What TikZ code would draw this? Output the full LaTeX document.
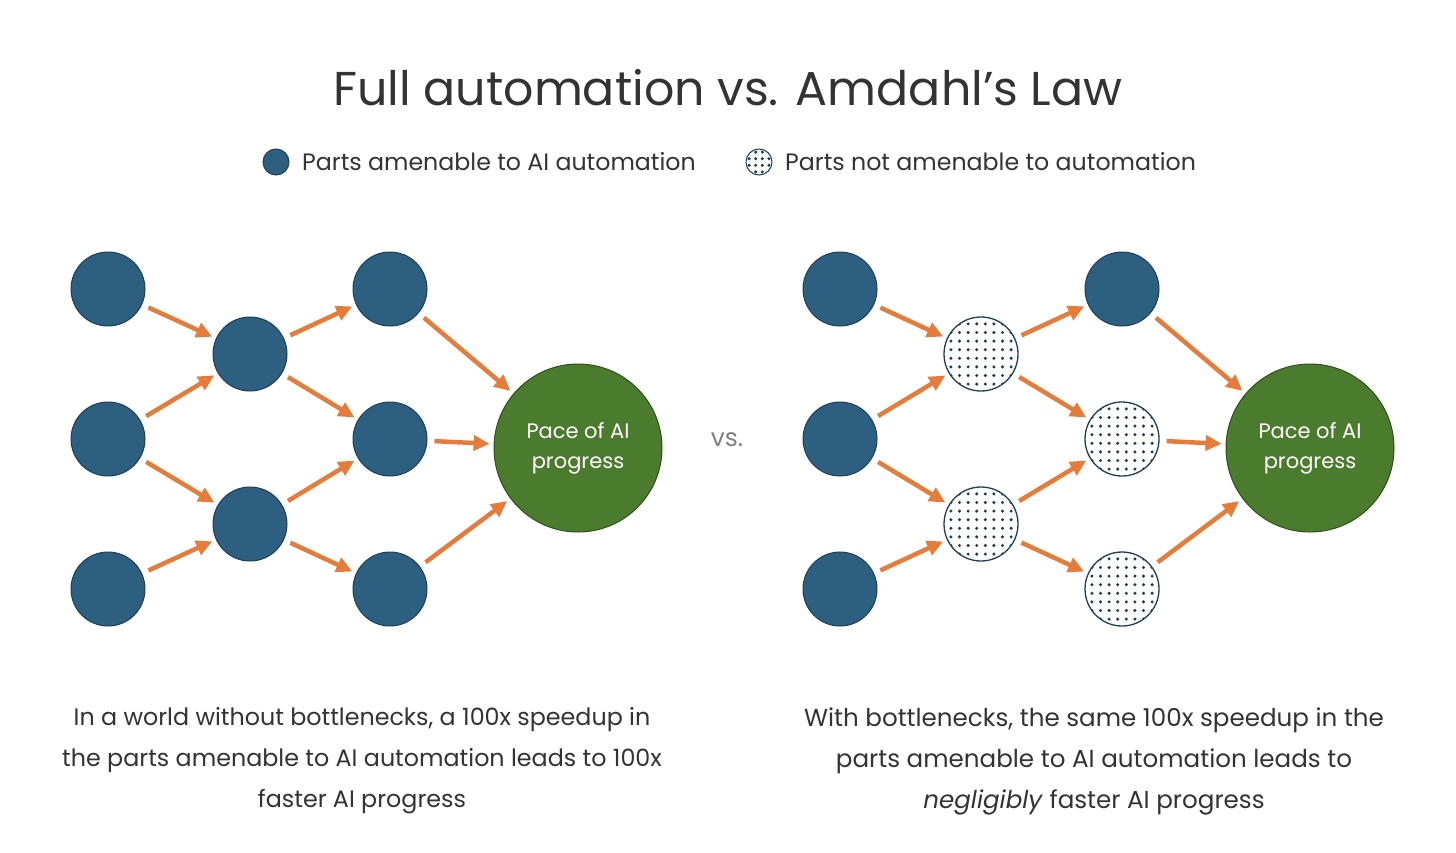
\documentclass[tikz,border=0pt]{standalone}
\usepackage{fontspec}
\setmainfont{Poppins}
\usetikzlibrary{arrows.meta}

\definecolor{nodeblue}{HTML}{2C5F80}
\definecolor{rimblue}{HTML}{1E3F56}
\definecolor{pacegreen}{HTML}{4B7B2C}
\definecolor{rimgreen}{HTML}{2F4F1B}
\definecolor{floworange}{HTML}{E57C39}
\definecolor{textgray}{HTML}{333333}

\begin{document}
\begin{tikzpicture}[x=1pt, y=-1pt,
  every node/.style={text=textgray},
  part/.style={circle, draw=rimblue, line width=1pt, fill=nodeblue, minimum size=#1, inner sep=0pt},
  part/.default=74pt,
  dotpart/.style={circle, draw=rimblue, line width=1.3pt, fill=white, minimum size=74pt, inner sep=0pt,
    path picture={\foreach \i in {-3.5,-2.5,...,3.5} \foreach \j in {-3.5,-2.5,...,3.5}
      \fill[rimblue] ([shift={(\i*#1,\j*#1)}]path picture bounding box.center) circle (1.7pt);}},
  dotpart/.default=8.6,
  pace/.style={circle, draw=rimgreen, line width=1pt, fill=pacegreen, minimum size=168pt, inner sep=0pt,
    text=white, align=center, font=\fontsize{21}{30}\selectfont},
  flow/.style={floworange, line width=4.5pt, -{Triangle[length=16pt,width=15pt]}, shorten <=7pt, shorten >=4pt},
  caption/.style={align=center, font=\fontsize{23.8}{41}\selectfont},
  keytext/.style={anchor=west, inner sep=0pt, font=\fontsize{23.7}{26}\selectfont},
]
\useasboundingbox (0,0) rectangle (1456,852);

% title and legend
\node[font=\fontsize{47.5}{50}\selectfont] (title) at (728,88) {Full automation vs. Amdahl’s Law};
\node[part=26pt] (keyauto) at (276,162) {};
\node[keytext] (keyautotext) at (302,162) {Parts amenable to AI automation};
\node[dotpart=6.6, minimum size=26pt, line width=1pt] (keyfixed) at (759,162) {};
\node[keytext] (keyfixedtext) at (785,162) {Parts not amenable to automation};

% left: every part automated
\node[part] (la1) at (108,289) {};
\node[part] (la2) at (108,439) {};
\node[part] (la3) at (108,589) {};
\node[part] (lb1) at (250,354) {};
\node[part] (lb2) at (250,524) {};
\node[part] (lc1) at (390,289) {};
\node[part] (lc2) at (390,439) {};
\node[part] (lc3) at (390,589) {};
\node[pace] (lpace) at (578,448) {Pace of AI\\progress};
\draw[flow] (la1) -- (lb1);
\draw[flow] (la2) -- (lb1);
\draw[flow] (la2) -- (lb2);
\draw[flow] (la3) -- (lb2);
\draw[flow] (lb1) -- (lc1);
\draw[flow] (lb1) -- (lc2);
\draw[flow] (lb2) -- (lc2);
\draw[flow] (lb2) -- (lc3);
\draw[flow] (lc1) -- (lpace);
\draw[flow] (lc2) -- (lpace);
\draw[flow] (lc3) -- (lpace);

\node[text=gray, font=\fontsize{25}{28}\selectfont] (vs) at (727,440) {vs.};

% right: bottlenecks remain
\node[part] (ra1) at (840,289) {};
\node[part] (ra2) at (840,439) {};
\node[part] (ra3) at (840,589) {};
\node[dotpart] (rb1) at (981,354) {};
\node[dotpart] (rb2) at (981,524) {};
\node[part] (rc1) at (1122,289) {};
\node[dotpart] (rc2) at (1122,439) {};
\node[dotpart] (rc3) at (1122,589) {};
\node[pace] (rpace) at (1310,448) {Pace of AI\\progress};
\draw[flow] (ra1) -- (rb1);
\draw[flow] (ra2) -- (rb1);
\draw[flow] (ra2) -- (rb2);
\draw[flow] (ra3) -- (rb2);
\draw[flow] (rb1) -- (rc1);
\draw[flow] (rb1) -- (rc2);
\draw[flow] (rb2) -- (rc2);
\draw[flow] (rb2) -- (rc3);
\draw[flow] (rc1) -- (rpace);
\draw[flow] (rc2) -- (rpace);
\draw[flow] (rc3) -- (rpace);

% captions
\node[caption] (lcap) at (362,761) {In a world without bottlenecks, a 100x speedup in\\the parts amenable to AI automation leads to 100x\\faster AI progress};
\node[caption, font=\fontsize{24.6}{41}\selectfont] (rcap) at (1094,761) {With bottlenecks, the same 100x speedup in the\\parts amenable to AI automation leads to\\\textit{negligibly} faster AI progress};
\end{tikzpicture}
\end{document}
